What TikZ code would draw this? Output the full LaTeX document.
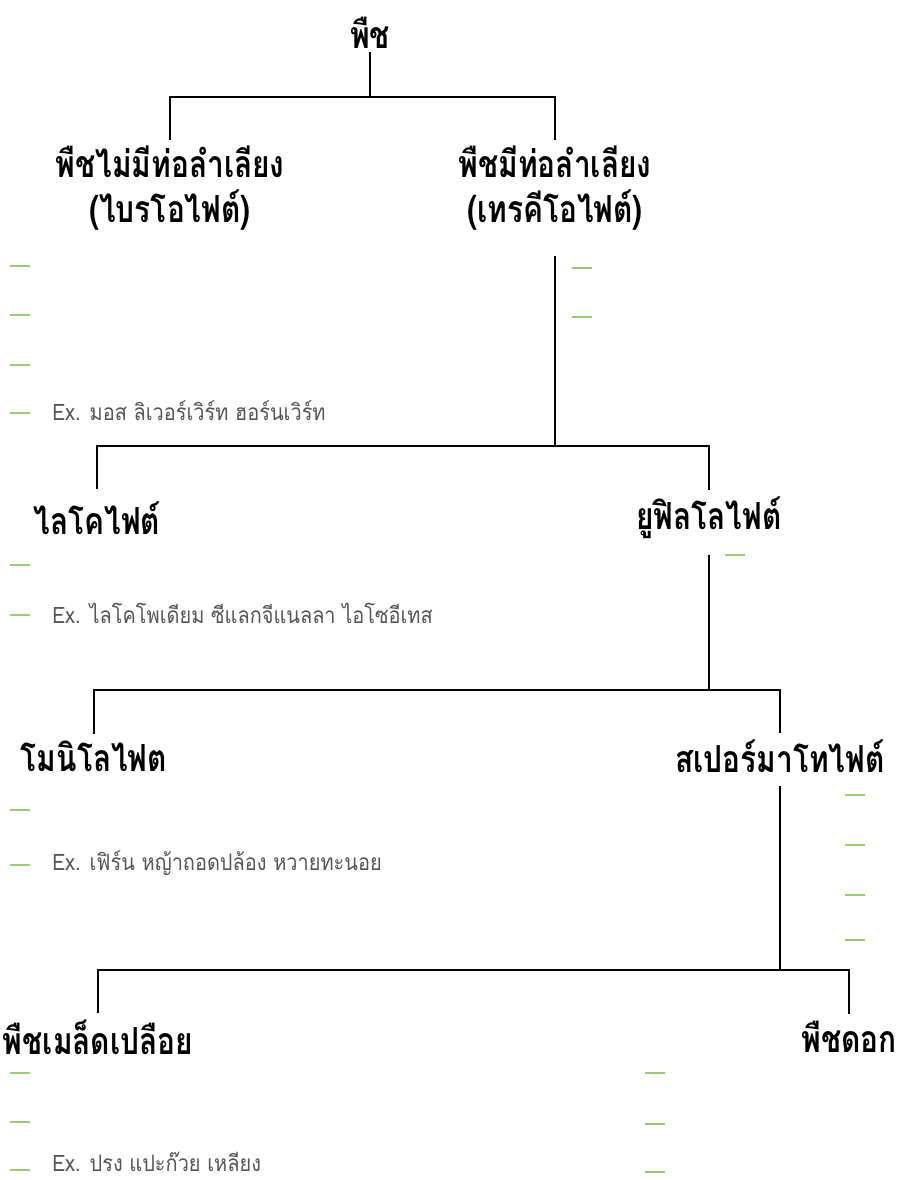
\documentclass[tikz,border=0pt]{standalone}
\usepackage{fontspec}
\newfontfamily\thaifont[Script=Thai, FakeStretch=0.88]{Loma}
\newfontfamily\thaihead[Script=Thai, FakeStretch=0.8]{Loma}
\usepackage{tikz}
\usetikzlibrary{positioning}
\usetikzlibrary{calc}
\definecolor{dashgreen}{RGB}{150,205,120}
\definecolor{exgray}{RGB}{85,85,85}

\begin{document}
\begin{tikzpicture}[x=0.75pt, y=-0.75pt,
  head/.style={font=\thaihead\bfseries\fontsize{28}{34}\selectfont, align=center, inner sep=0pt},
  extext/.style={font=\thaifont\fontsize{17}{20}\selectfont, text=exgray, anchor=west, inner sep=0pt},
  tree/.style={line width=1.3pt, black},
  greenbar/.style={line width=1.5pt, dashgreen}]
  \useasboundingbox (0,0) rectangle (898,1180);

  % half length of the green marks
  \def\hl{10}
  \def\exx{52}

  % headings
  \node[head] (plant) at (370,33) {พืช};
  \node[head] (nonvasc) at (170,188) {พืชไม่มีท่อลำเลียง\\(ไบรโอไฟต์)};
  \node[head] (vasc) at (555,188) {พืชมีท่อลำเลียง\\(เทรคีโอไฟต์)};
  \node[head] (lyco) at (97,518) {ไลโคไฟต์};
  \node[head] (euphyl) at (709,518) {ยูฟิลโลไฟต์};
  \node[head] (monil) at (94,756) {โมนิโลไฟต};
  \node[head] (sperm) at (780,756) {สเปอร์มาโทไฟต์};
  \node[head] (gymno) at (98,1037) {พืชเมล็ดเปลือย};
  \node[head] (angio) at (849,1037) {พืชดอก};

  % branch points
  \coordinate (j1) at (370,97);
  \coordinate (j2) at (555,446);
  \coordinate (j3) at (709,690);
  \coordinate (j4) at (780,970);

  % tree lines
  \draw[tree] ([yshift=-2]plant.south) -- (j1);
  \draw[tree] ([yshift=4]nonvasc.north) |- (j1) -| ([yshift=4]vasc.north);
  \draw[tree] ([yshift=-19]vasc.south) -- (j2);
  \draw[tree] ([yshift=9]lyco.north) |- (j2) -| ([yshift=5]euphyl.north);
  \draw[tree] ([yshift=-12]euphyl.south) -- (j3);
  \draw[tree] ([yshift=5]monil.north) |- (j3) -| ([yshift=5]sperm.north);
  \draw[tree] ([yshift=-10]sperm.south) -- (j4);
  \draw[tree] ([yshift=5]gymno.north) |- (j4) -| ([yshift=5]angio.north);

  % green marks, left column
  \foreach \y in {266,315,365,413,565,615,810,865,1073,1122,1170}
    \draw[greenbar] (20-\hl,\y) -- (20+\hl,\y);
  % green marks, right side
  \foreach \x/\y in {582/268,582/317,735/555,855/795,855/845,855/895,855/940,655/1073,655/1124,655/1172}
    \draw[greenbar] (\x-\hl,\y) -- (\x+\hl,\y);

  % examples
  \node[extext] (exbryo) at (\exx,411) {Ex. มอส ลิเวอร์เวิร์ท ฮอร์นเวิร์ท};
  \node[extext] (exlyco) at (\exx,613) {Ex. ไลโคโพเดียม ซีแลกจีแนลลา ไอโซอีเทส};
  \node[extext] (exmonil) at (\exx,863) {Ex. เฟิร์น หญ้าถอดปล้อง หวายทะนอย};
  \node[extext] (exgymno) at (\exx,1162) {Ex. ปรง แปะก๊วย เหลียง};

\end{tikzpicture}
\end{document}
